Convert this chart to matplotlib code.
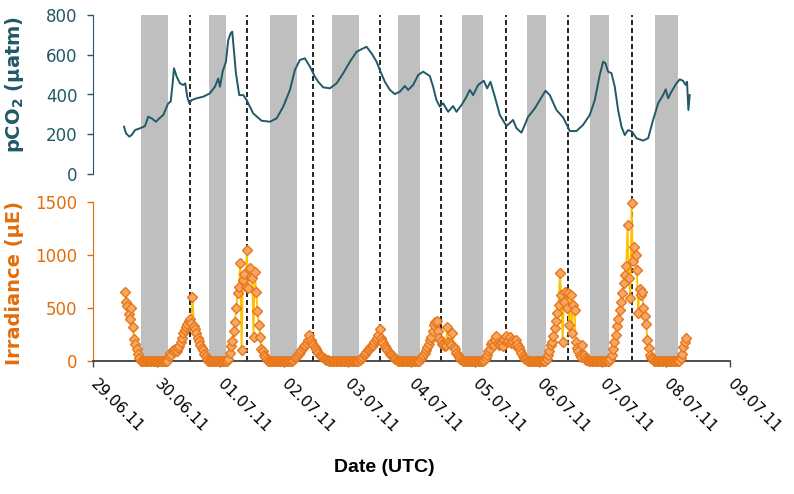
import numpy as np
import matplotlib.pyplot as plt

# x axis = days since 29.06.11 00:00 UTC
tick_labels = ['29.06.11', '30.06.11', '01.07.11', '02.07.11', '03.07.11', '04.07.11',
               '05.07.11', '06.07.11', '07.07.11', '08.07.11', '09.07.11']

# night periods (grey) and local noon (dashed), in days
night_start = [0.749, 1.821, 2.779, 3.757, 4.793, 5.793, 6.813, 7.807, 8.827]
night_end = [1.173, 2.088, 3.198, 4.180, 5.133, 6.127, 7.107, 8.100, 9.188]
noon_day = [1.524, 2.424, 3.458, 4.507, 5.458, 6.494, 7.454, 8.466]

# pCO2 (uatm)
pco2_day = [0.487, 0.518, 0.57, 0.607, 0.66, 0.738, 0.816, 0.868, 0.921, 0.989,
            1.041, 1.104, 1.182, 1.22, 1.251, 1.272, 1.314, 1.366, 1.418, 1.449,
            1.48, 1.512, 1.549, 1.628, 1.732, 1.837, 1.915, 1.967, 1.994, 2.036,
            2.088, 2.124, 2.162, 2.187, 2.203, 2.245, 2.297, 2.36, 2.413, 2.516,
            2.648, 2.779, 2.884, 2.988, 3.093, 3.171, 3.25, 3.328, 3.407, 3.485,
            3.537, 3.616, 3.72, 3.826, 3.93, 4.035, 4.14, 4.243, 4.296, 4.375,
            4.454, 4.505, 4.584, 4.663, 4.741, 4.819, 4.898, 4.95, 5.028, 5.107,
            5.185, 5.29, 5.342, 5.394, 5.447, 5.499, 5.578, 5.656, 5.709, 5.788,
            5.866, 5.918, 5.97, 6.049, 6.138, 6.19, 6.243, 6.311, 6.389, 6.494,
            6.598, 6.651, 6.729, 6.782, 6.834, 6.939, 7.017, 7.107, 7.174, 7.279,
            7.383, 7.452, 7.488, 7.593, 7.697, 7.802, 7.881, 7.959, 8.012, 8.049,
            8.09, 8.143, 8.195, 8.247, 8.3, 8.352, 8.404, 8.467, 8.536, 8.64,
            8.719, 8.797, 8.876, 8.954, 8.996, 9.032, 9.085, 9.163, 9.215, 9.267,
            9.309, 9.33, 9.351, 9.372]
pco2_val = [238, 205, 188, 196, 221, 230, 241, 288, 280, 263,
            280, 297, 356, 364, 456, 532, 490, 456, 448, 456,
            389, 356, 372, 381, 389, 406, 439, 481, 439, 515,
            565, 674, 708, 716, 657, 507, 397, 397, 372, 305,
            268, 263, 280, 339, 423, 523, 574, 582, 540, 490,
            464, 436, 431, 456, 507, 565, 615, 632, 640, 607,
            565, 523, 464, 423, 402, 414, 443, 423, 448, 498,
            515, 493, 439, 372, 339, 356, 313, 342, 313, 347,
            389, 423, 397, 448, 469, 431, 464, 389, 297, 241,
            272, 230, 208, 247, 288, 330, 372, 419, 397, 322,
            285, 241, 216, 216, 247, 297, 372, 498, 565, 557,
            515, 507, 439, 322, 238, 196, 221, 213, 180, 168,
            180, 272, 356, 397, 426, 381, 414, 456, 476, 469,
            448, 464, 322, 397]

# irradiance (uE), 30 min values, each day from 00:00 (29.06 from 12:00)
irr_2906 = [650, 560, 520, 440, 400, 500, 320, 210, 160, 110, 70, 30,
            0, 0, 0, 0, 0, 0, 0, 0, 0, 0, 0, 0]
irr_3006 = [0, 0, 0, 0, 0, 0, 0, 0, 0, 50, 80, 60,
            100, 90, 110, 90, 120, 140, 180, 220, 260, 290, 320, 350,
            380, 400, 360, 600, 330, 300, 260, 220, 190, 150, 120, 100,
            70, 45, 20, 0, 0, 0, 0, 0, 0, 0, 0, 0]
irr_0107 = [0, 0, 0, 0, 0, 0, 20, 80, 140, 190, 280, 370,
            500, 640, 700, 920, 100, 760, 820, 700, 1050, 690, 880, 800,
            780, 230, 840, 650, 470, 340, 230, 110, 90, 60, 40, 20,
            0, 0, 0, 0, 0, 0, 0, 0, 0, 0, 0, 0]
irr_0207 = [0, 0, 0, 0, 0, 0, 0, 10, 25, 40, 55, 70,
            85, 100, 120, 140, 150, 170, 200, 250, 200, 170, 150, 130,
            110, 90, 75, 60, 45, 35, 25, 15, 10, 5, 0, 0,
            0, 0, 0, 0, 0, 0, 0, 0, 0, 0, 0, 0]
irr_0307 = [0, 0, 0, 0, 0, 0, 0, 0, 0, 5, 20, 40,
            55, 70, 85, 100, 115, 130, 140, 155, 175, 200, 220, 250,
            300, 220, 190, 170, 140, 120, 100, 85, 70, 55, 45, 30,
            20, 10, 0, 0, 0, 0, 0, 0, 0, 0, 0, 0]
irr_0407 = [0, 0, 0, 0, 0, 0, 0, 15, 35, 60, 80, 100,
            130, 160, 200, 230, 280, 340, 370, 380, 280, 220, 190, 160,
            150, 140, 150, 320, 180, 170, 150, 260, 130, 110, 80, 60,
            40, 20, 5, 0, 0, 0, 0, 0, 0, 0, 0, 0]
irr_0507 = [0, 0, 0, 0, 0, 0, 0, 10, 30, 60, 90, 110,
            160, 180, 150, 200, 240, 170, 150, 160, 170, 140, 200, 240,
            180, 190, 230, 170, 200, 180, 150, 200, 160, 130, 100, 80,
            50, 30, 15, 5, 0, 0, 0, 0, 0, 0, 0, 0]
irr_0607 = [0, 0, 0, 0, 0, 0, 20, 60, 90, 150, 180, 240,
            310, 380, 450, 530, 830, 620, 180, 560, 650, 500, 640, 340,
            620, 260, 530, 480, 180, 120, 90, 60, 40, 150, 60, 25,
            10, 5, 0, 0, 0, 0, 0, 0, 0, 0, 0, 0]
irr_0707 = [0, 0, 0, 0, 0, 0, 20, 60, 110, 180, 245, 330,
            400, 480, 560, 640, 740, 810, 900, 1280, 780, 590, 1490, 940,
            1080, 1000, 860, 450, 680, 620, 650, 500, 420, 350, 200, 120,
            60, 30, 15, 0, 0, 0, 0, 0, 0, 0, 0, 0]
irr_0807 = [0, 0, 0, 0, 0, 0, 0, 0, 0, 0, 0, 30,
            70, 130, 180, 220]

irr_days = [irr_2906, irr_3006, irr_0107, irr_0207, irr_0307, irr_0407,
            irr_0507, irr_0607, irr_0707, irr_0807]
irr_t, irr_v = [], []
for i, vals in enumerate(irr_days):
    first = 24 if i == 0 else 0
    irr_t += list(i + (first + np.arange(len(vals))) / 48.0)
    irr_v += vals

teal = '#215968'
orange = '#E46C0A'

fig = plt.figure(figsize=(7.94, 4.94), dpi=100)
L = 93 / 794.
W = (729.7 - 93) / 794.
bg = fig.add_axes([L, 133 / 494., W, 346 / 494.])
ax1 = fig.add_axes([L, 320 / 494., W, 159 / 494.])
ax2 = fig.add_axes([L, 133 / 494., W, 159 / 494.])

# background: night shading and noon markers across both panels
bg.set_xlim(0, 10)
bg.set_ylim(0, 1)
bg.axis('off')
for s, e in zip(night_start, night_end):
    bg.axvspan(s, e, color='#BFBFBF', lw=0)
for d in noon_day:
    bg.axvline(d, color='black', lw=1.2, dashes=(3, 1.8))

# pCO2 panel
ax1.set_facecolor('none')
ax1.plot(pco2_day, pco2_val, color=teal, lw=1.4)
ax1.set_xlim(0, 10)
ax1.set_ylim(0, 800)
ax1.set_yticks([0, 200, 400, 600, 800])
for sp in ['top', 'right', 'bottom']:
    ax1.spines[sp].set_visible(False)
ax1.spines['left'].set_color(teal)
ax1.set_xticks([])
ax1.tick_params(axis='y', colors=teal, labelsize=12, length=4.3, width=1, pad=7)

# irradiance panel
ax2.set_facecolor('none')
ax2.plot(irr_t, irr_v, color='#FFC000', lw=1.3, marker='D', ms=4.8,
         mfc='#F6A862', mec='#E8761B', mew=1.0, clip_on=False, zorder=5)
ax2.set_xlim(0, 10)
ax2.set_ylim(0, 1500)
ax2.set_yticks([0, 500, 1000, 1500])
ax2.set_xticks(range(11))
ax2.set_xticklabels(tick_labels, rotation=-45, ha='left', va='center',
                    rotation_mode='anchor')
for sp in ['top', 'right']:
    ax2.spines[sp].set_visible(False)
ax2.spines['left'].set_color(orange)
ax2.spines['bottom'].set_color('#404040')
ax2.spines['bottom'].set_linewidth(1.3)
ax2.tick_params(axis='y', colors=orange, labelsize=12, length=4.3, width=1, pad=7)
ax2.tick_params(axis='x', colors='#404040', labelcolor='black', labelsize=11,
                length=4, width=1, pad=11)

fig.text(15 / 794., 1 - 84 / 494., r'pCO$_\mathbf{2}$ (µatm)', rotation=90,
         ha='center', va='center', fontsize=14, fontweight='bold', color=teal)
fig.text(15 / 794., 1 - 283 / 494., 'Irradiance (µE)', rotation=90,
         ha='center', va='center', fontsize=14, fontweight='bold', color=orange)
fig.text(384 / 794., 1 - 467 / 494., 'Date (UTC)', ha='center', va='center',
         fontsize=14, fontweight='bold', family=['Liberation Sans', 'DejaVu Sans'])

fig.savefig('out.png', dpi=100)
